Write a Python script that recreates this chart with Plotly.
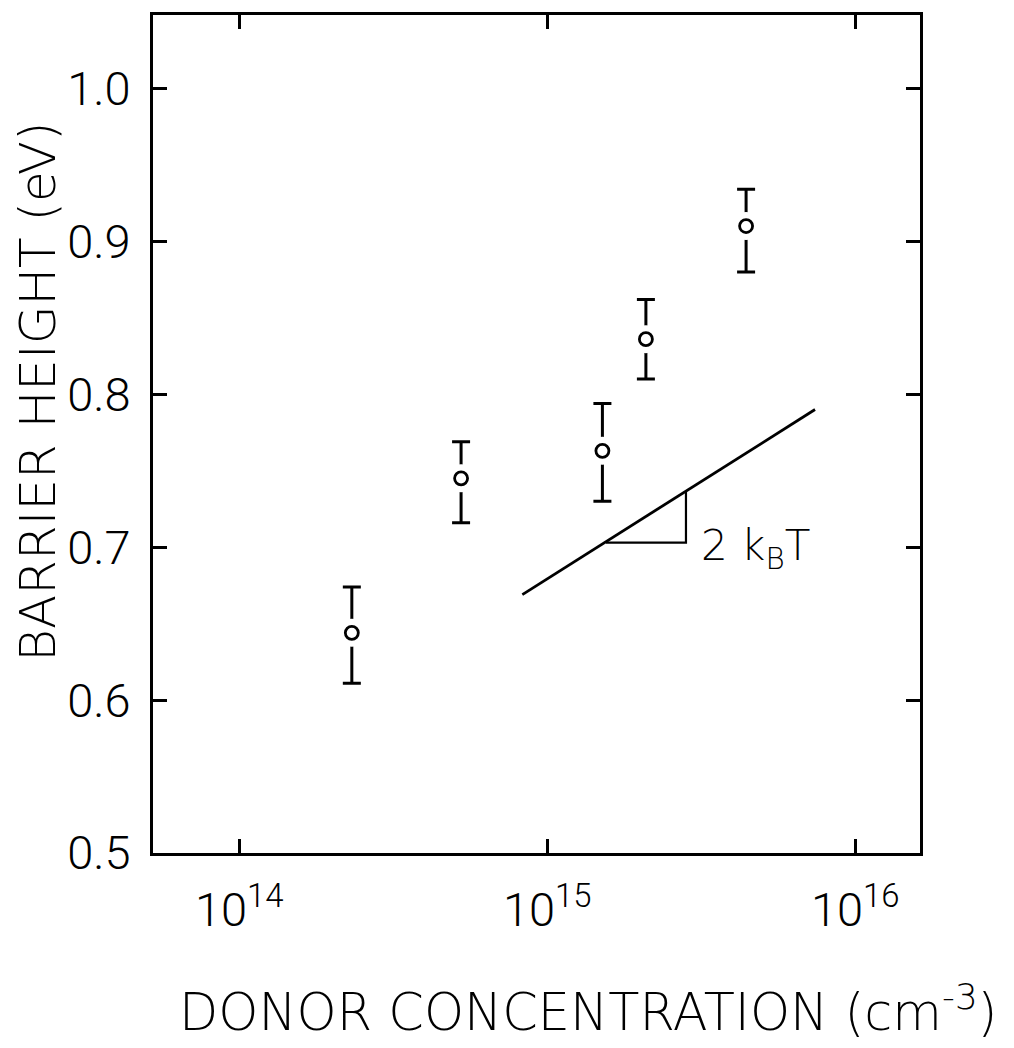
import math
import plotly.graph_objects as go

# Data
donor_conc = [2.32e14, 5.25e14, 1.51e15, 2.09e15, 4.42e15]
barrier = [0.644, 0.745, 0.763, 0.836, 0.910]
err_plus = [0.030, 0.024, 0.031, 0.026, 0.024]
err_minus = [0.033, 0.029, 0.033, 0.026, 0.030]

line_x = [8.3e14, 7.4e15]
line_y = [0.669, 0.790]

tri_x = [1.55e15, 2.82e15, 2.82e15]
tri_y = [0.703, 0.703, 0.736]

x_tickvals = [1e14, 1e15, 1e16]
x_ticktext = ["10<sup>14</sup>", "10<sup>15</sup>", "10<sup>16</sup>"]
y_tickvals = [0.5, 0.6, 0.7, 0.8, 0.9, 1.0]
y_ticktext = ["0.5", "0.6", "0.7", "0.8", "0.9", "1.0"]

TICKFONT = "Roboto"
TITLEFONT = "DejaVu Sans"

fig = go.Figure()

# error bars
fig.add_trace(go.Scatter(
    x=donor_conc, y=barrier, mode="markers",
    marker=dict(size=1, color="rgba(0,0,0,0)"),
    error_y=dict(type="data", symmetric=False, array=err_plus, arrayminus=err_minus,
                 color="black", thickness=3, width=9),
    showlegend=False, hoverinfo="skip"))
# white mask to create the gap around the circle
fig.add_trace(go.Scatter(
    x=donor_conc, y=barrier, mode="markers",
    marker=dict(size=28, color="white", line=dict(width=0)),
    showlegend=False, hoverinfo="skip"))
# open circles
fig.add_trace(go.Scatter(
    x=donor_conc, y=barrier, mode="markers",
    marker=dict(size=13, symbol="circle-open", color="black", line=dict(width=2.8)),
    showlegend=False))

# 2kT slope line
fig.add_trace(go.Scatter(x=line_x, y=line_y, mode="lines",
                         line=dict(color="black", width=2.8),
                         showlegend=False, hoverinfo="skip"))
fig.add_trace(go.Scatter(x=tri_x, y=tri_y, mode="lines",
                         line=dict(color="black", width=2.2),
                         showlegend=False, hoverinfo="skip"))

fig.add_annotation(x=math.log10(4.75e15), y=0.699, xref="x", yref="y",
                   text="2 k<sub>B</sub>T", showarrow=False,
                   xanchor="center", yanchor="middle",
                   font=dict(family=TITLEFONT, size=42, color="black", weight=300))

axis_common = dict(showgrid=False, zeroline=False, showline=True, linecolor="black",
                   linewidth=3, mirror="allticks", ticks="inside", ticklen=14,
                   tickwidth=2.5, tickcolor="black",
                   tickfont=dict(family=TICKFONT, size=47, color="black", weight=300))

fig.update_xaxes(type="log", range=[13.72, 16.21], tickvals=x_tickvals,
                 ticktext=x_ticktext, ticklabelstandoff=14, **axis_common)
fig.update_yaxes(range=[0.5, 1.048], tickvals=y_tickvals, ticktext=y_ticktext,
                 ticklabelstandoff=10, **axis_common)

# plot area in page px: left 153, right 920, top 12, bottom 853 (page has 8px body margin)
fig.add_annotation(x=(38 - 153) / 767, y=(853 - 390) / 841, xref="paper", yref="paper",
                   text="BARRIER HEIGHT (eV)", textangle=-90, showarrow=False,
                   xanchor="center", yanchor="middle", borderpad=0,
                   font=dict(family=TITLEFONT, size=50, color="black", weight=300))
fig.add_annotation(x=(588 - 153) / 767, y=(853 - 1010) / 841, xref="paper", yref="paper",
                   text="DONOR CONCENTRATION (cm<sup>-3</sup>)", showarrow=False,
                   xanchor="center", yanchor="middle",
                   font=dict(family=TITLEFONT, size=51, color="black", weight=300))

fig.update_layout(width=1006, height=1040, plot_bgcolor="white", paper_bgcolor="white",
                  margin=dict(l=145, r=94, t=4, b=195))

fig.write_html("out.html")
